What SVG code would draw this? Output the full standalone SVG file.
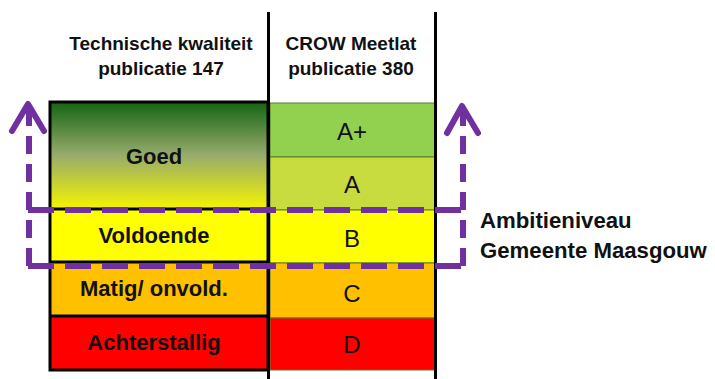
<svg xmlns="http://www.w3.org/2000/svg" width="715" height="379" viewBox="0 0 715 379">
<defs>
<linearGradient id="goed" x1="0" y1="0" x2="0" y2="1">
<stop offset="0" stop-color="#146414"/>
<stop offset="0.5" stop-color="#98ac6c"/>
<stop offset="1" stop-color="#f4f400"/>
</linearGradient>
</defs>
<style>
.hd{font-family:"Liberation Sans",Arial,sans-serif;font-weight:bold;font-size:19px;fill:#111;text-anchor:middle}
.lb{font-family:"Liberation Sans",Arial,sans-serif;font-weight:bold;font-size:22px;fill:#111;text-anchor:middle}
.rl{font-family:"Liberation Sans",Arial,sans-serif;font-size:24px;fill:#111;text-anchor:middle}
.amb{font-family:"Liberation Sans",Arial,sans-serif;font-weight:bold;font-size:22.2px;fill:#111}
.cell{stroke:#5a7a30;stroke-width:1}
.blk{stroke:#000;stroke-width:3;fill:none}
.dh{stroke:#7030a0;stroke-width:6;fill:none;stroke-dasharray:26 11}
.dv{stroke:#7030a0;stroke-width:6;fill:none;stroke-dasharray:18 10}
.ah{stroke:#7030a0;stroke-width:6;fill:none;stroke-linecap:round;stroke-linejoin:round}
</style>
<rect width="715" height="379" fill="#fff"/>
<g id="headers">
<text class="hd" x="161" y="50">Technische kwaliteit</text>
<text class="hd" x="161" y="75">publicatie 147</text>
<text class="hd" x="351" y="50">CROW Meetlat</text>
<text class="hd" x="351" y="75">publicatie 380</text>
</g>
<g id="left-column">
<g id="goed"><rect x="50" y="102" width="218" height="107" fill="url(#goed)"/><text class="lb" x="154" y="164">Goed</text></g>
<g id="voldoende"><rect x="50" y="209" width="218" height="53" fill="#ffff00"/><text class="lb" x="154" y="243">Voldoende</text></g>
<g id="matig"><rect x="50" y="262" width="218" height="54" fill="#ffc000"/><text class="lb" x="154" y="296">Matig/ onvold.</text></g>
<g id="achterstallig"><rect x="50" y="316" width="218" height="54" fill="#ff0000"/><text class="lb" x="154" y="350">Achterstallig</text></g>
<rect class="blk" x="50" y="102" width="218" height="268"/>
<path class="blk" d="M50 209H268M50 262H268M50 316H268"/>
</g>
<g id="right-column">
<g id="aplus"><rect class="cell" x="270" y="103" width="165" height="54" fill="#92d050"/><text class="rl" x="352" y="140">A+</text></g>
<g id="a"><rect class="cell" x="270" y="157" width="165" height="53" fill="#c8dc40"/><text class="rl" x="352" y="193">A</text></g>
<g id="b"><rect class="cell" x="270" y="210" width="165" height="53" fill="#ffff00"/><text class="rl" x="352" y="247">B</text></g>
<g id="c"><rect class="cell" x="270" y="263" width="165" height="55" fill="#ffc000"/><text class="rl" x="352" y="302">C</text></g>
<g id="d"><rect class="cell" x="270" y="318" width="165" height="52" fill="#ff0000"/><text class="rl" x="352" y="353">D</text></g>
</g>
<g id="dividers">
<path class="blk" d="M268.5 12V379M435.5 12V379"/>
</g>
<g id="connectors">
<path class="dh" d="M28 210H463"/>
<path class="dh" d="M28 266H463"/>
<path class="dv" d="M29 266V106"/>
<path class="dv" d="M463 266V108"/>
<path class="ah" d="M12 131L28 104L44 131"/>
<path class="ah" d="M447 133L462 106L478 133"/>
</g>
<g id="ambitie">
<text class="amb" x="480" y="228">Ambitieniveau</text>
<text class="amb" x="480" y="258">Gemeente Maasgouw</text>
</g>
</svg>
